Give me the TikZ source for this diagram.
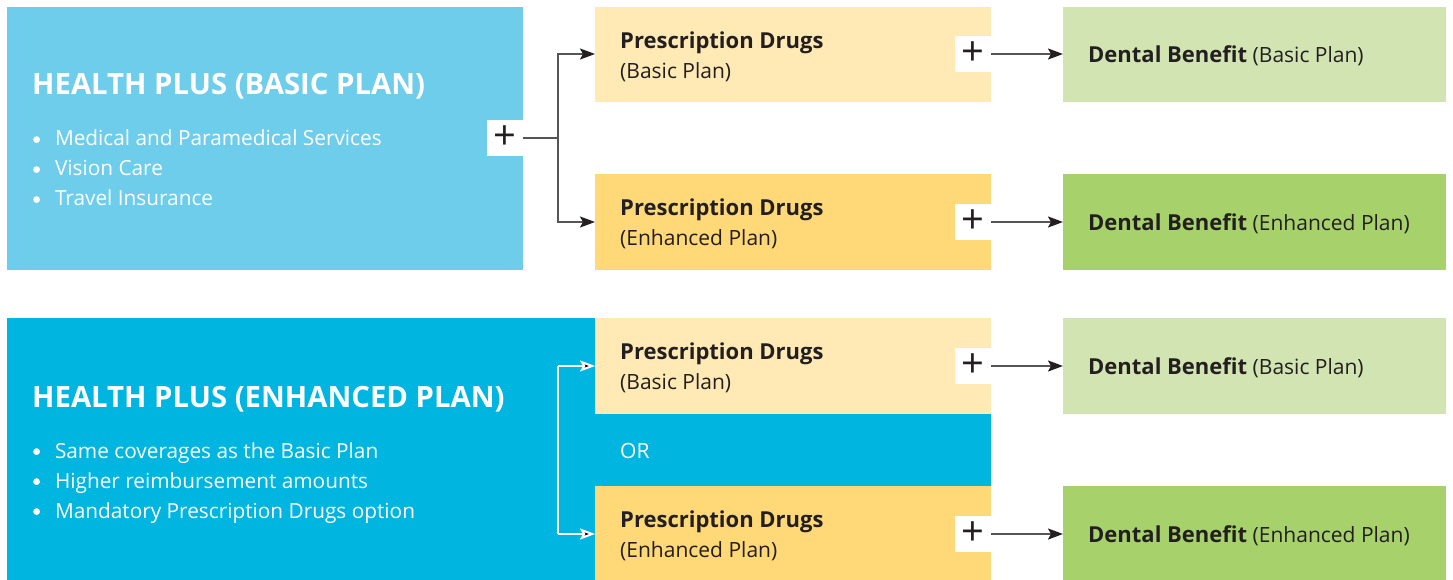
\documentclass[tikz,border=0pt]{standalone}
\usepackage{fontspec}
\setmainfont{Open Sans}
\usetikzlibrary{arrows.meta}
\definecolor{blueA}{HTML}{6ECDEA}
\definecolor{blueB}{HTML}{00B5E0}
\definecolor{yelA}{HTML}{FFE9B5}
\definecolor{yelB}{HTML}{FFD878}
\definecolor{grnA}{HTML}{D1E4B1}
\definecolor{grnB}{HTML}{A7D26B}
\definecolor{ink}{HTML}{231F20}
\definecolor{lineg}{HTML}{555555}
\newcommand{\bdot}{\raisebox{3pt}{\tikz\fill[white] (0,0) circle (3.4pt);}\hspace{15pt}}
\tikzset{
  box/.style={rectangle, inner sep=0pt, outer sep=0pt, anchor=north west},
  plusbox/.style={rectangle, fill=white, minimum width=36pt, minimum height=36pt, inner sep=0pt, outer sep=0pt, font=\fontsize{40}{40}\selectfont, text=ink},
  title/.style={anchor=base west, inner sep=0pt, text=white, font=\fontsize{29.3}{32}\selectfont\bfseries},
  bullet/.style={anchor=base west, inner sep=0pt, text=white, font=\fontsize{20.8}{24}\selectfont},
  rxtext/.style={anchor=west, inner sep=0pt, text=ink, align=left, font=\fontsize{21}{30}\selectfont},
  dtext/.style={anchor=west, inner sep=0pt, text=ink, font=\fontsize{21}{24}\selectfont},
  darr/.style={draw=lineg, line width=2pt, -{Stealth[length=15pt,width=11pt,inset=3pt,color=ink]}},
  warr/.style={draw=white, line width=2pt, -{Stealth[length=15pt,width=11pt,inset=3pt,color=white]}},
  dline/.style={draw=lineg, line width=2pt},
  wline/.style={draw=white, line width=2pt},
}
\newcommand{\bx}[1]{{\fontsize{22}{30}\selectfont\bfseries #1}}
\begin{document}
\begin{tikzpicture}[x=1pt,y=-1pt]
\useasboundingbox (0,0) rectangle (1453,580);
% ---------- top section ----------
\node[box, fill=blueA, minimum width=516pt, minimum height=263pt] (hb) at (7,7) {};
\node[title] (hbt) at (32,95) {HEALTH PLUS (BASIC PLAN)};
\node[bullet] (hb1) at (33,146) {\bdot Medical and Paramedical Services};
\node[bullet] (hb2) at (33,176) {\bdot Vision Care};
\node[bullet] (hb3) at (33,206) {\bdot Travel Insurance};
\node[plusbox] (p0) at (505,138) {+};

\node[box, fill=yelA, minimum width=396pt, minimum height=95pt] (rx1) at (595,7) {};
\node[rxtext] (rx1t) at (620,57) {\bx{Prescription Drugs}\\(Basic Plan)};
\node[box, fill=yelB, minimum width=396pt, minimum height=96pt] (rx2) at (595,174) {};
\node[rxtext] (rx2t) at (620,224) {\bx{Prescription Drugs}\\(Enhanced Plan)};

\node[plusbox] (p1) at (973,54) {+};
\node[plusbox] (p2) at (973,222) {+};

\node[box, fill=grnA, minimum width=383pt, minimum height=95pt] (d1) at (1063,7) {};
\node[dtext] (d1t) at (1088,56) {\bx{Dental Benefit} (Basic Plan)};
\node[box, fill=grnB, minimum width=383pt, minimum height=96pt] (d2) at (1063,174) {};
\node[dtext] (d2t) at (1088,224) {\bx{Dental Benefit} (Enhanced Plan)};

\coordinate (j0) at (558,138);
\draw[dline] (p0.east) -- (j0);
\draw[darr] (j0) |- (rx1.west |- p1);
\draw[darr] (j0) |- (rx2.west |- p2);
\draw[darr] (p1.east) -- (d1.west |- p1);
\draw[darr] (p2.east) -- (d2.west |- p2);

% ---------- bottom section ----------
\node[box, fill=blueB, minimum width=588pt, minimum height=262pt] (he) at (7,318) {};
\node[box, fill=blueB, minimum width=396pt, minimum height=72pt] (orb) at (595,414) {};
\node[anchor=west, inner sep=0pt, text=white, font=\fontsize{21}{24}\selectfont] (ort) at (620,451) {OR};
\node[title] (het) at (32,407) {HEALTH PLUS (ENHANCED PLAN)};
\node[bullet] (he1) at (33,458) {\bdot Same coverages as the Basic Plan};
\node[bullet] (he2) at (33,488) {\bdot Higher reimbursement amounts};
\node[bullet] (he3) at (33,518) {\bdot Mandatory Prescription Drugs option};

\node[box, fill=yelA, minimum width=396pt, minimum height=96pt] (rx3) at (595,318) {};
\node[rxtext] (rx3t) at (620,368) {\bx{Prescription Drugs}\\(Basic Plan)};
\node[box, fill=yelB, minimum width=396pt, minimum height=94pt] (rx4) at (595,486) {};
\node[rxtext] (rx4t) at (620,536) {\bx{Prescription Drugs}\\(Enhanced Plan)};

\node[plusbox] (p3) at (973,366) {+};
\node[plusbox] (p4) at (973,534) {+};

\node[box, fill=grnA, minimum width=383pt, minimum height=96pt] (d3) at (1063,318) {};
\node[dtext] (d3t) at (1088,368) {\bx{Dental Benefit} (Basic Plan)};
\node[box, fill=grnB, minimum width=383pt, minimum height=94pt] (d4) at (1063,486) {};
\node[dtext] (d4t) at (1088,536) {\bx{Dental Benefit} (Enhanced Plan)};

\coordinate (j1) at (558,366);
\coordinate (j2) at (558,534);
\draw[wline] (j1) -- (j2);
\draw[warr] (j1) -- (rx3.west |- j1);
\draw[warr] (j2) -- (rx4.west |- j2);
\draw[darr] (p3.east) -- (d3.west |- p3);
\draw[darr] (p4.east) -- (d4.west |- p4);
\end{tikzpicture}
\end{document}
